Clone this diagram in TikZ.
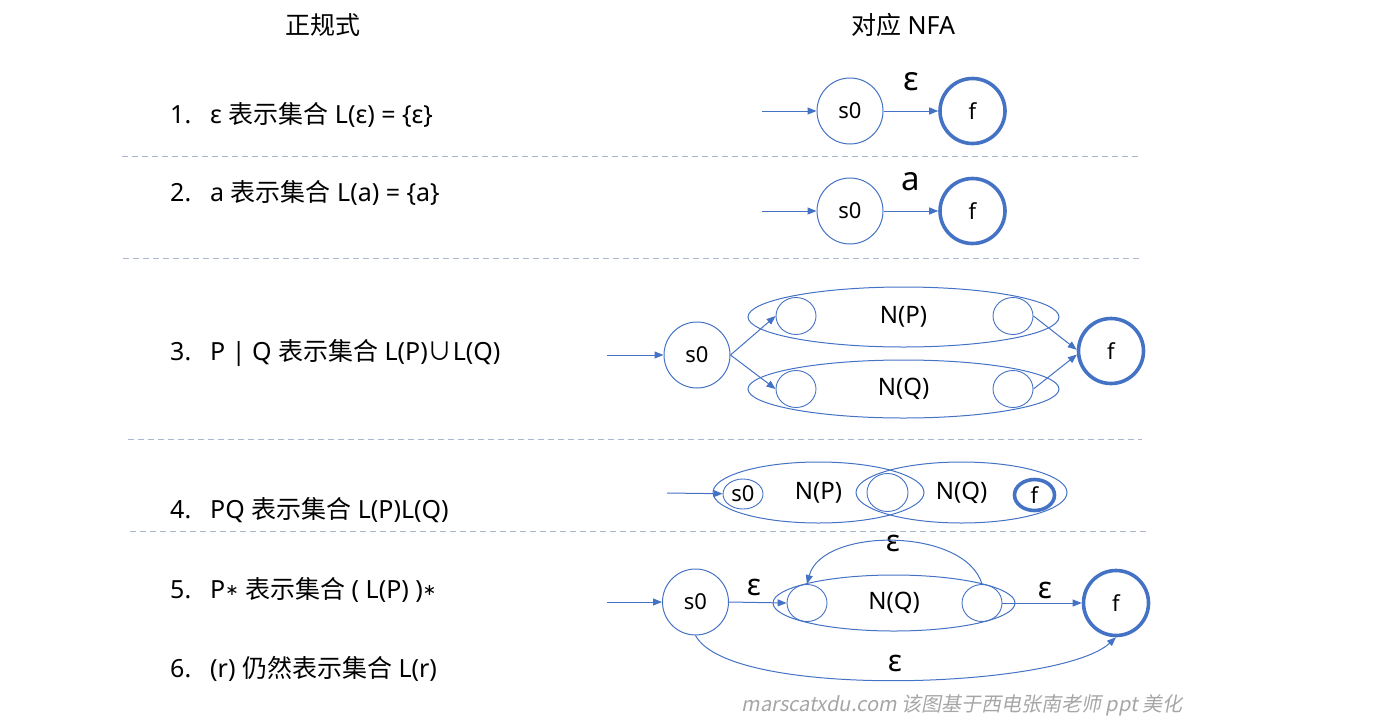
\documentclass[tikz,border=0pt]{standalone}
\usepackage{fontspec}
\setmainfont{Noto Sans}
\newfontfamily\zhfont{Noto Sans CJK SC}
\newfontfamily\symfont{DejaVu Sans}
\newfontfamily\wmfont[FakeSlant=0.2]{Noto Sans CJK SC}
\newcommand{\zh}[1]{{\zhfont #1}}
\newcommand{\kstar}{\raisebox{3pt}{\symfont\fontsize{16}{16}\selectfont ∗}}
\usetikzlibrary{arrows.meta,shapes.geometric}
\definecolor{nfablue}{RGB}{68,114,196}
\definecolor{sepgray}{RGB}{170,184,208}
\definecolor{wmgray}{RGB}{166,166,166}

\begin{document}
\begin{tikzpicture}[x=1pt,y=-1pt,
    state/.style={draw=nfablue,circle,line width=1pt,minimum size=66pt,inner sep=0pt,font=\fontsize{22}{22}\selectfont},
    final/.style={state,line width=3.6pt,minimum size=65pt},
    blob/.style={draw=nfablue,ellipse,line width=1pt,inner sep=0pt,font=\fontsize{24}{24}\selectfont},
    sub/.style={draw=nfablue,ellipse,line width=0.9pt,inner sep=0pt,minimum width=40pt,minimum height=37pt,font=\fontsize{22}{22}\selectfont},
    arr/.style={draw=nfablue,line width=1pt,-{Triangle[length=9pt,width=7pt]}},
    eps/.style={inner sep=0pt,font=\fontsize{33}{33}\selectfont},
    item/.style={anchor=base west,inner sep=0pt,font=\fontsize{25}{25}\selectfont},
    sep/.style={sepgray,line width=1pt,dash pattern=on 6pt off 4pt}]
  \useasboundingbox (0,0) rectangle (1380,723);

  \node[item,anchor=center] (head1) at (323,25) {\zh{正规式}};
  \node[item,anchor=center] (head2) at (903,25) {\zh{对应} NFA};

  \node[item] (rule1) at (170,123) {\makebox[40pt][l]{1.}ε \zh{表示集合} L(ε) = \{ε\}};
  \node[item] (rule2) at (170,201) {\makebox[40pt][l]{2.}a \zh{表示集合} L(a) = \{a\}};
  \node[item] (rule3) at (170,360) {\makebox[40pt][l]{3.}P | Q \zh{表示集合} L(P)\zh{∪}L(Q)};
  \node[item] (rule4) at (170,518) {\makebox[40pt][l]{4.}PQ \zh{表示集合} L(P)L(Q)};
  \node[item] (rule5) at (170,598) {\makebox[40pt][l]{5.}P\kstar{} \zh{表示集合} ( L(P) )\kstar};
  \node[item] (rule6) at (170,677) {\makebox[40pt][l]{6.}(r) \zh{仍然表示集合} L(r)};

  \draw[sep] (122,156) -- (1138,156);
  \draw[sep] (123,258) -- (1140,258);
  \draw[sep] (128,439) -- (1142,439);
  \draw[sep] (130,531) -- (1147,531);

  % epsilon
  \coordinate (in1) at (762,111);
  \node[state] (s01) at (850,111) {s0};
  \node[final] (f1) at (972.5,111) {f};
  \node[eps] (e1) at (911,82) {ε};
  \draw[arr] (in1) -- (s01);
  \draw[arr] (s01) -- (f1);

  % a
  \coordinate (in2) at (762,211);
  \node[state] (s02) at (850,211) {s0};
  \node[final] (f2) at (972.5,211) {f};
  \node[eps] (a2) at (911,182) {a};
  \draw[arr] (in2) -- (s02);
  \draw[arr] (s02) -- (f2);

  % P | Q
  \coordinate (in3) at (607,355);
  \node[state] (s03) at (697,355) {s0};
  \node[blob,minimum width=311pt,minimum height=60pt] (np3) at (903.5,317) {N(P)};
  \node[blob,minimum width=311pt,minimum height=58pt] (nq3) at (903.5,389) {N(Q)};
  \node[sub] (p3a) at (796,316) {};
  \node[sub] (p3b) at (1013,316) {};
  \node[sub] (q3a) at (796,389) {};
  \node[sub] (q3b) at (1013,389) {};
  \node[final] (f3) at (1111,351) {f};
  \draw[arr] (in3) -- (s03);
  \draw[arr] (s03.east) -- (p3a.west);
  \draw[arr] (s03.east) -- (q3a.west);
  \draw[arr] (p3b.east) -- (f3.178);
  \draw[arr] (q3b.east) -- (f3.186);

  % PQ
  \coordinate (in4) at (667,493);
  \node[blob,minimum width=211pt,minimum height=61pt] (np4) at (818.5,492.5) {N(P)};
  \node[blob,minimum width=211pt,minimum height=61pt] (nq4) at (961.5,492.5) {N(Q)};
  \node[sub,minimum width=40pt,minimum height=30pt] (s04) at (743,494) {s0};
  \node[sub,minimum width=41pt,minimum height=38pt] (m4) at (887.5,492.5) {};
  \node[sub,line width=3.6pt,minimum width=40pt,minimum height=31pt] (f4) at (1034.5,495) {f};
  \draw[arr] (in4) -- (s04);

  % P*
  \coordinate (in5) at (607,602);
  \node[state] (s05) at (695.5,602) {s0};
  \node[blob,minimum width=242pt,minimum height=56pt] (nq5) at (894,603) {N(Q)};
  \node[sub] (q5a) at (807,603) {};
  \node[sub] (q5b) at (982,603) {};
  \node[final] (f5) at (1116,603) {f};
  \node[eps,font=\fontsize{30}{30}\selectfont] (e5a) at (754,587) {ε};
  \node[eps,font=\fontsize{30}{30}\selectfont] (e5b) at (1045,590) {ε};
  \node[eps,font=\fontsize{30}{30}\selectfont] (e5c) at (893,543) {ε};
  \node[eps,font=\fontsize{30}{30}\selectfont] (e5d) at (895,663) {ε};
  \draw[arr] (in5) -- (s05);
  \draw[arr] (s05.east) -- (q5a.west);
  \draw[arr] (q5b.east) -- (f5.west);
  \draw[arr] (q5b.north) .. controls (965,527) and (822,527) .. (q5a.north);
  \draw[arr] (s05.south) .. controls (730,700) and (1060,689) .. (f5.south);

  \node[inner sep=0pt,text=wmgray,font=\wmfont\fontsize{20}{20}\selectfont] (credit) at (962,705) {marscatxdu.com 该图基于西电张南老师 ppt 美化};
\end{tikzpicture}
\end{document}
